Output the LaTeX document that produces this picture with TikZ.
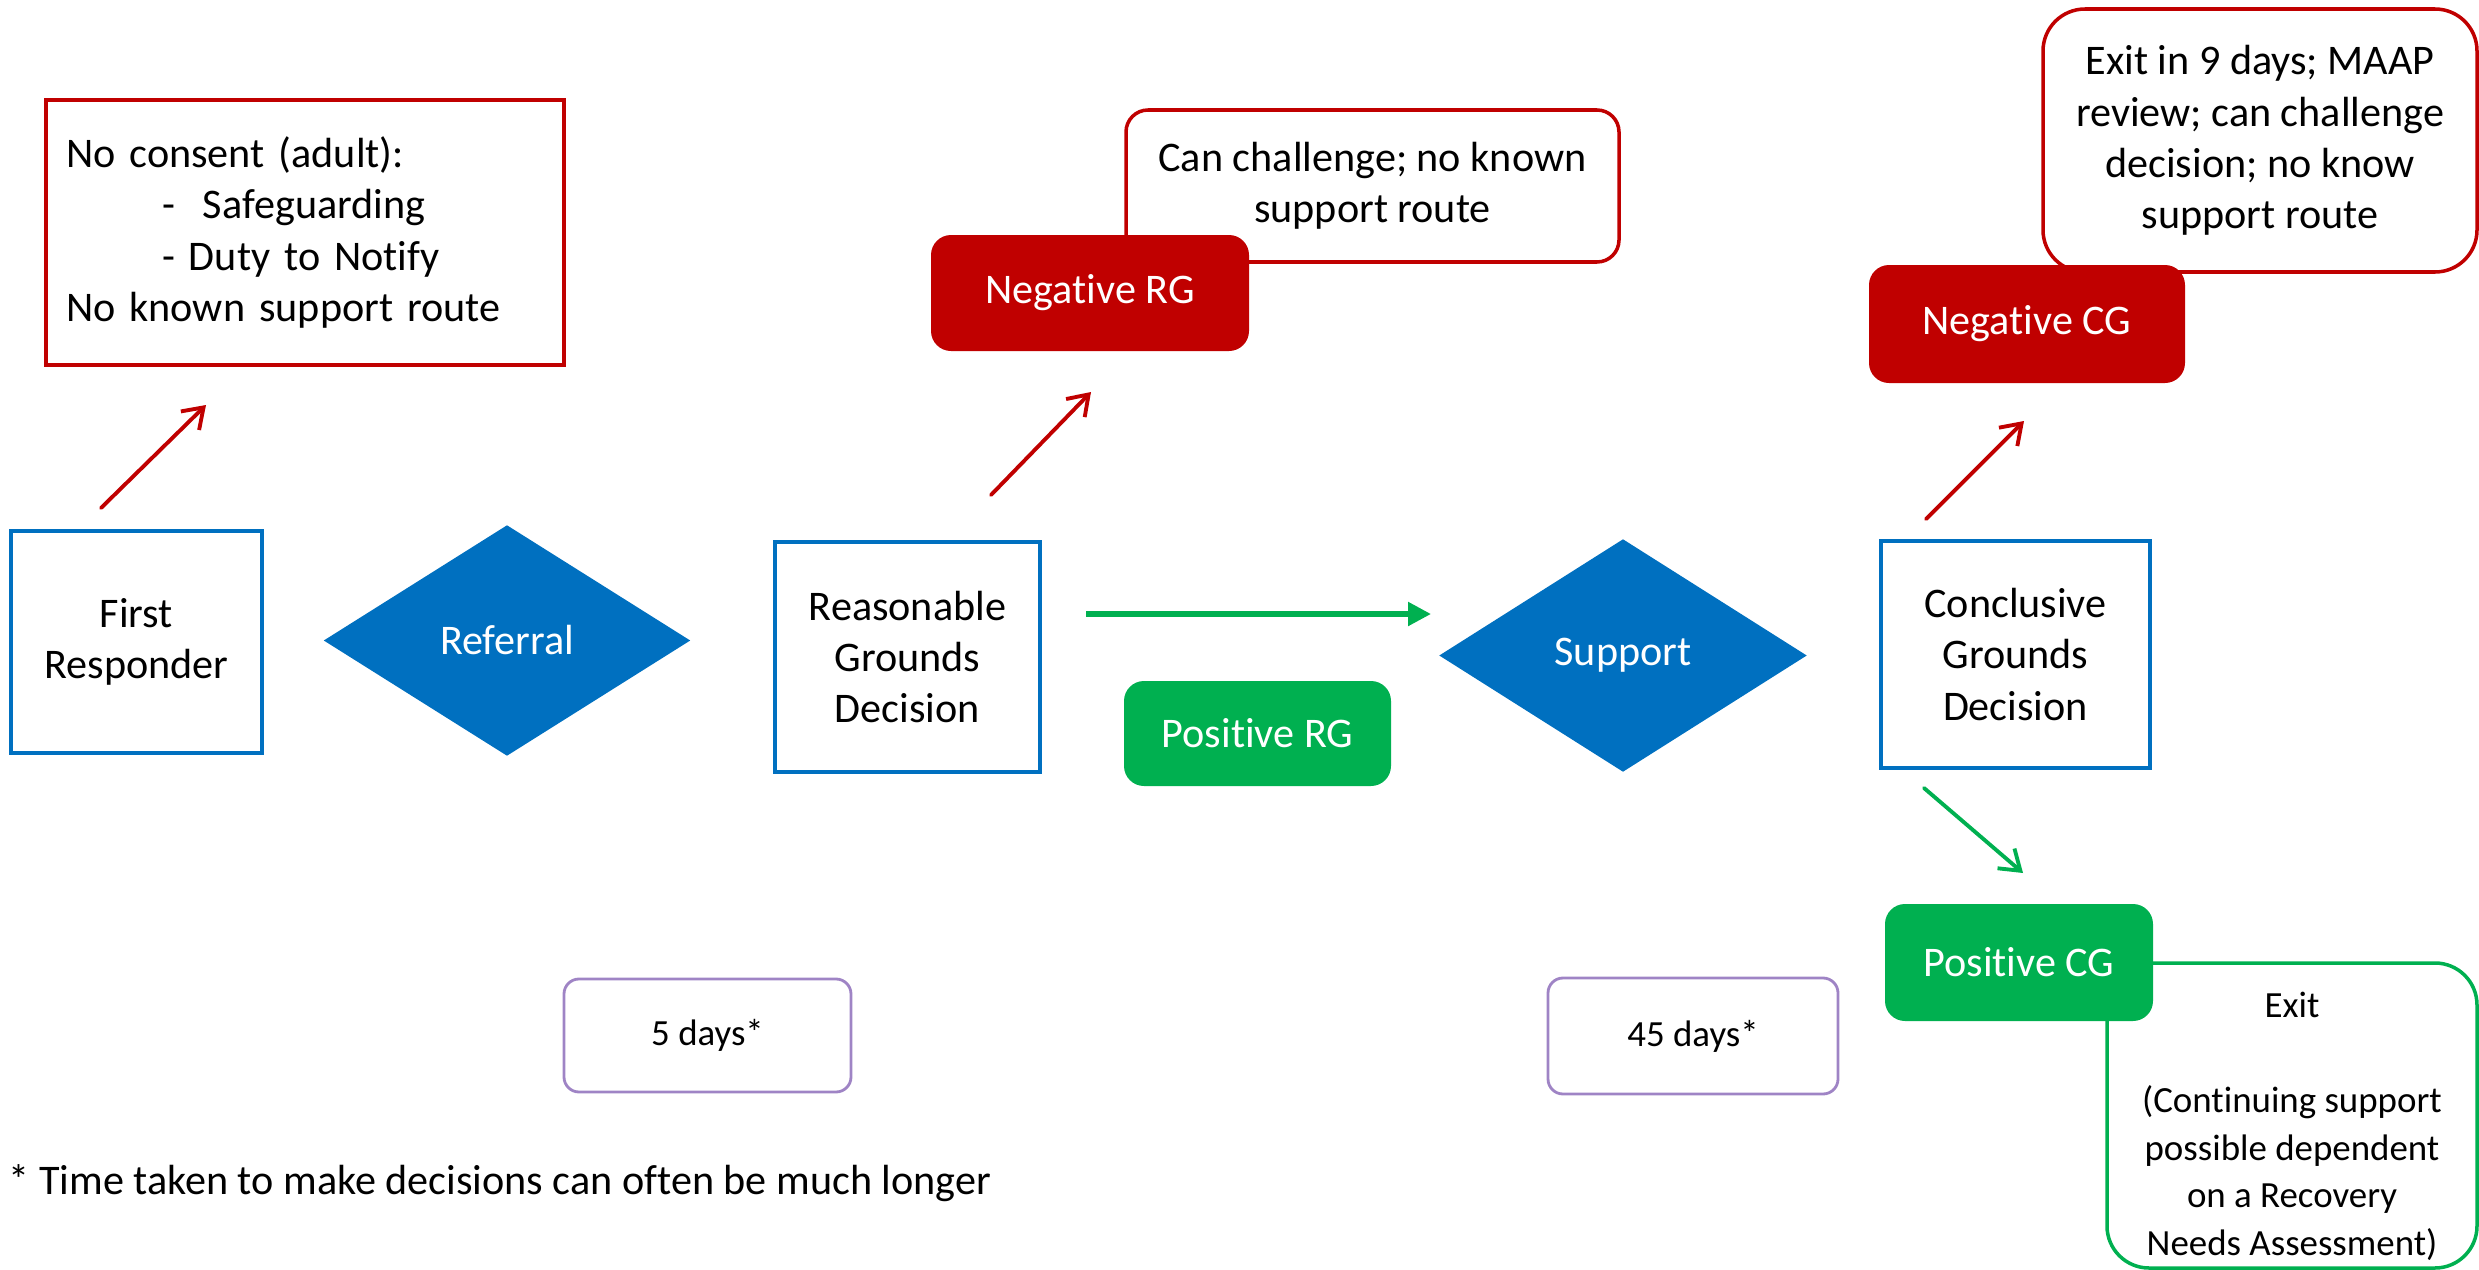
\documentclass[tikz,border=0pt]{standalone}
\usepackage{fontspec}
\setmainfont{Carlito}[Ligatures={TeX,NoCommon}]
\usetikzlibrary{shapes.geometric,arrows.meta}
\definecolor{stageblue}{HTML}{0070C0}
\definecolor{negred}{HTML}{C00000}
\definecolor{posgreen}{HTML}{00B050}
\definecolor{timepurple}{HTML}{9F84C5}
\tikzset{
	txt/.style={font=\fontsize{12}{14.6}\selectfont, align=center, inner sep=0pt},
	stagebox/.style={txt, rectangle, draw=stageblue, line width=1pt},
	gate/.style={txt, diamond, fill=stageblue, text=white},
	negbox/.style={txt, fill=negred, text=white, rounded corners=0.2cm},
	posbox/.style={txt, fill=posgreen, text=white, rounded corners=0.2cm},
	negnote/.style={txt, draw=negred, fill=white, line width=1pt},
	posnote/.style={txt, font=\fontsize{10.5}{13.5}\selectfont, draw=posgreen, fill=white, line width=1pt, rounded corners=0.42cm},
	timebox/.style={txt, font=\fontsize{10.5}{12}\selectfont, draw=timepurple, line width=0.8pt, rounded corners=0.15cm},
	redarrow/.style={draw=negred, line width=1.1pt, line cap=round, -{Straight Barb[length=1.9mm, width=2.6mm]}},
	greenarrow/.style={draw=posgreen, line width=1.1pt, line cap=round, -{Straight Barb[length=1.9mm, width=2.6mm]}},
	flowarrow/.style={draw=posgreen, line width=1.5pt, -{Triangle[length=2.3mm, width=2.3mm]}}
}
\begin{document}
\begin{tikzpicture}
	\useasboundingbox (0, 0) rectangle (24.79, -12.70);
	% stages
	\node [stagebox, minimum width=2.51cm, minimum height=2.22cm] (first) at (1.365, -6.42) {First\\Responder};
	\node [gate, minimum width=3.67cm, minimum height=2.31cm] (referral) at (5.07, -6.405) {Referral};
	\node [stagebox, minimum width=2.65cm, minimum height=2.30cm] (rgd) at (9.075, -6.57) {Reasonable\\Grounds\\Decision};
	\node [gate, minimum width=3.68cm, minimum height=2.33cm] (support) at (16.23, -6.555) {Support};
	\node [stagebox, minimum width=2.69cm, minimum height=2.27cm] (cgd) at (20.155, -6.545) {Conclusive\\Grounds\\Decision};
	% notes
	\node [negnote, align=left, text width=4.78cm, inner xsep=0.2cm, minimum height=2.65cm] (consent) at (3.05, -2.325)
		{No consent (adult):\\
		\hspace*{0.96cm}-\ \ Safeguarding\\
		\hspace*{0.96cm}- Duty to Notify\\
		No known support route};
	\node [negnote, rounded corners=0.22cm, minimum width=4.93cm, minimum height=1.52cm] (challenge) at (13.725, -1.86)
		{Can challenge; no known\\support route};
	\node [negnote, rounded corners=0.42cm, minimum width=4.34cm, minimum height=2.63cm] (exitneg) at (22.60, -1.405)
		{Exit in 9 days; MAAP\\review; can challenge\\decision; no know\\support route};
	\node [posnote, minimum width=3.70cm, text height=2.92cm, text depth=0.13cm] (exitpos) at (22.92, -11.155)
		{Exit\\[13.5pt](Continuing support\\possible dependent\\on a Recovery\\Needs Assessment)};
	% outcomes
	\node [negbox, minimum width=3.18cm, minimum height=1.16cm] (negrg) at (10.90, -2.93) {Negative RG};
	\node [posbox, minimum width=2.67cm, minimum height=1.05cm] (posrg) at (12.575, -7.335) {Positive RG};
	\node [negbox, minimum width=3.16cm, minimum height=1.18cm] (negcg) at (20.27, -3.24) {Negative CG};
	\node [posbox, minimum width=2.68cm, minimum height=1.17cm] (poscg) at (20.19, -9.625) {Positive CG};
	% time
	\node [timebox, minimum width=2.87cm, minimum height=1.13cm] (days5) at (7.075, -10.355) {5 days*};
	\node [timebox, minimum width=2.90cm, minimum height=1.16cm] (days45) at (16.93, -10.36) {45 days*};
	\node [txt, anchor=west] (footnote) at (0.08, -11.83) {* Time taken to make decisions can often be much longer};
	% arrows
	\coordinate (frfrom) at (1.01, -5.08);
	\coordinate (frto) at (2.06, -4.05);
	\coordinate (rgfrom) at (9.91, -4.95);
	\coordinate (rgto) at (10.91, -3.92);
	\coordinate (cgfrom) at (19.26, -5.19);
	\coordinate (cgto) at (20.24, -4.21);
	\coordinate (posfrom) at (10.86, -6.14);
	\coordinate (posto) at (14.31, -6.14);
	\coordinate (cgposfrom) at (19.24, -7.88);
	\coordinate (cgposto) at (20.23, -8.73);
	\draw [redarrow] (frfrom) -- (frto);
	\draw [redarrow] (rgfrom) -- (rgto);
	\draw [redarrow] (cgfrom) -- (cgto);
	\draw [flowarrow] (posfrom) -- (posto);
	\draw [greenarrow] (cgposfrom) -- (cgposto);
\end{tikzpicture}
\end{document}
